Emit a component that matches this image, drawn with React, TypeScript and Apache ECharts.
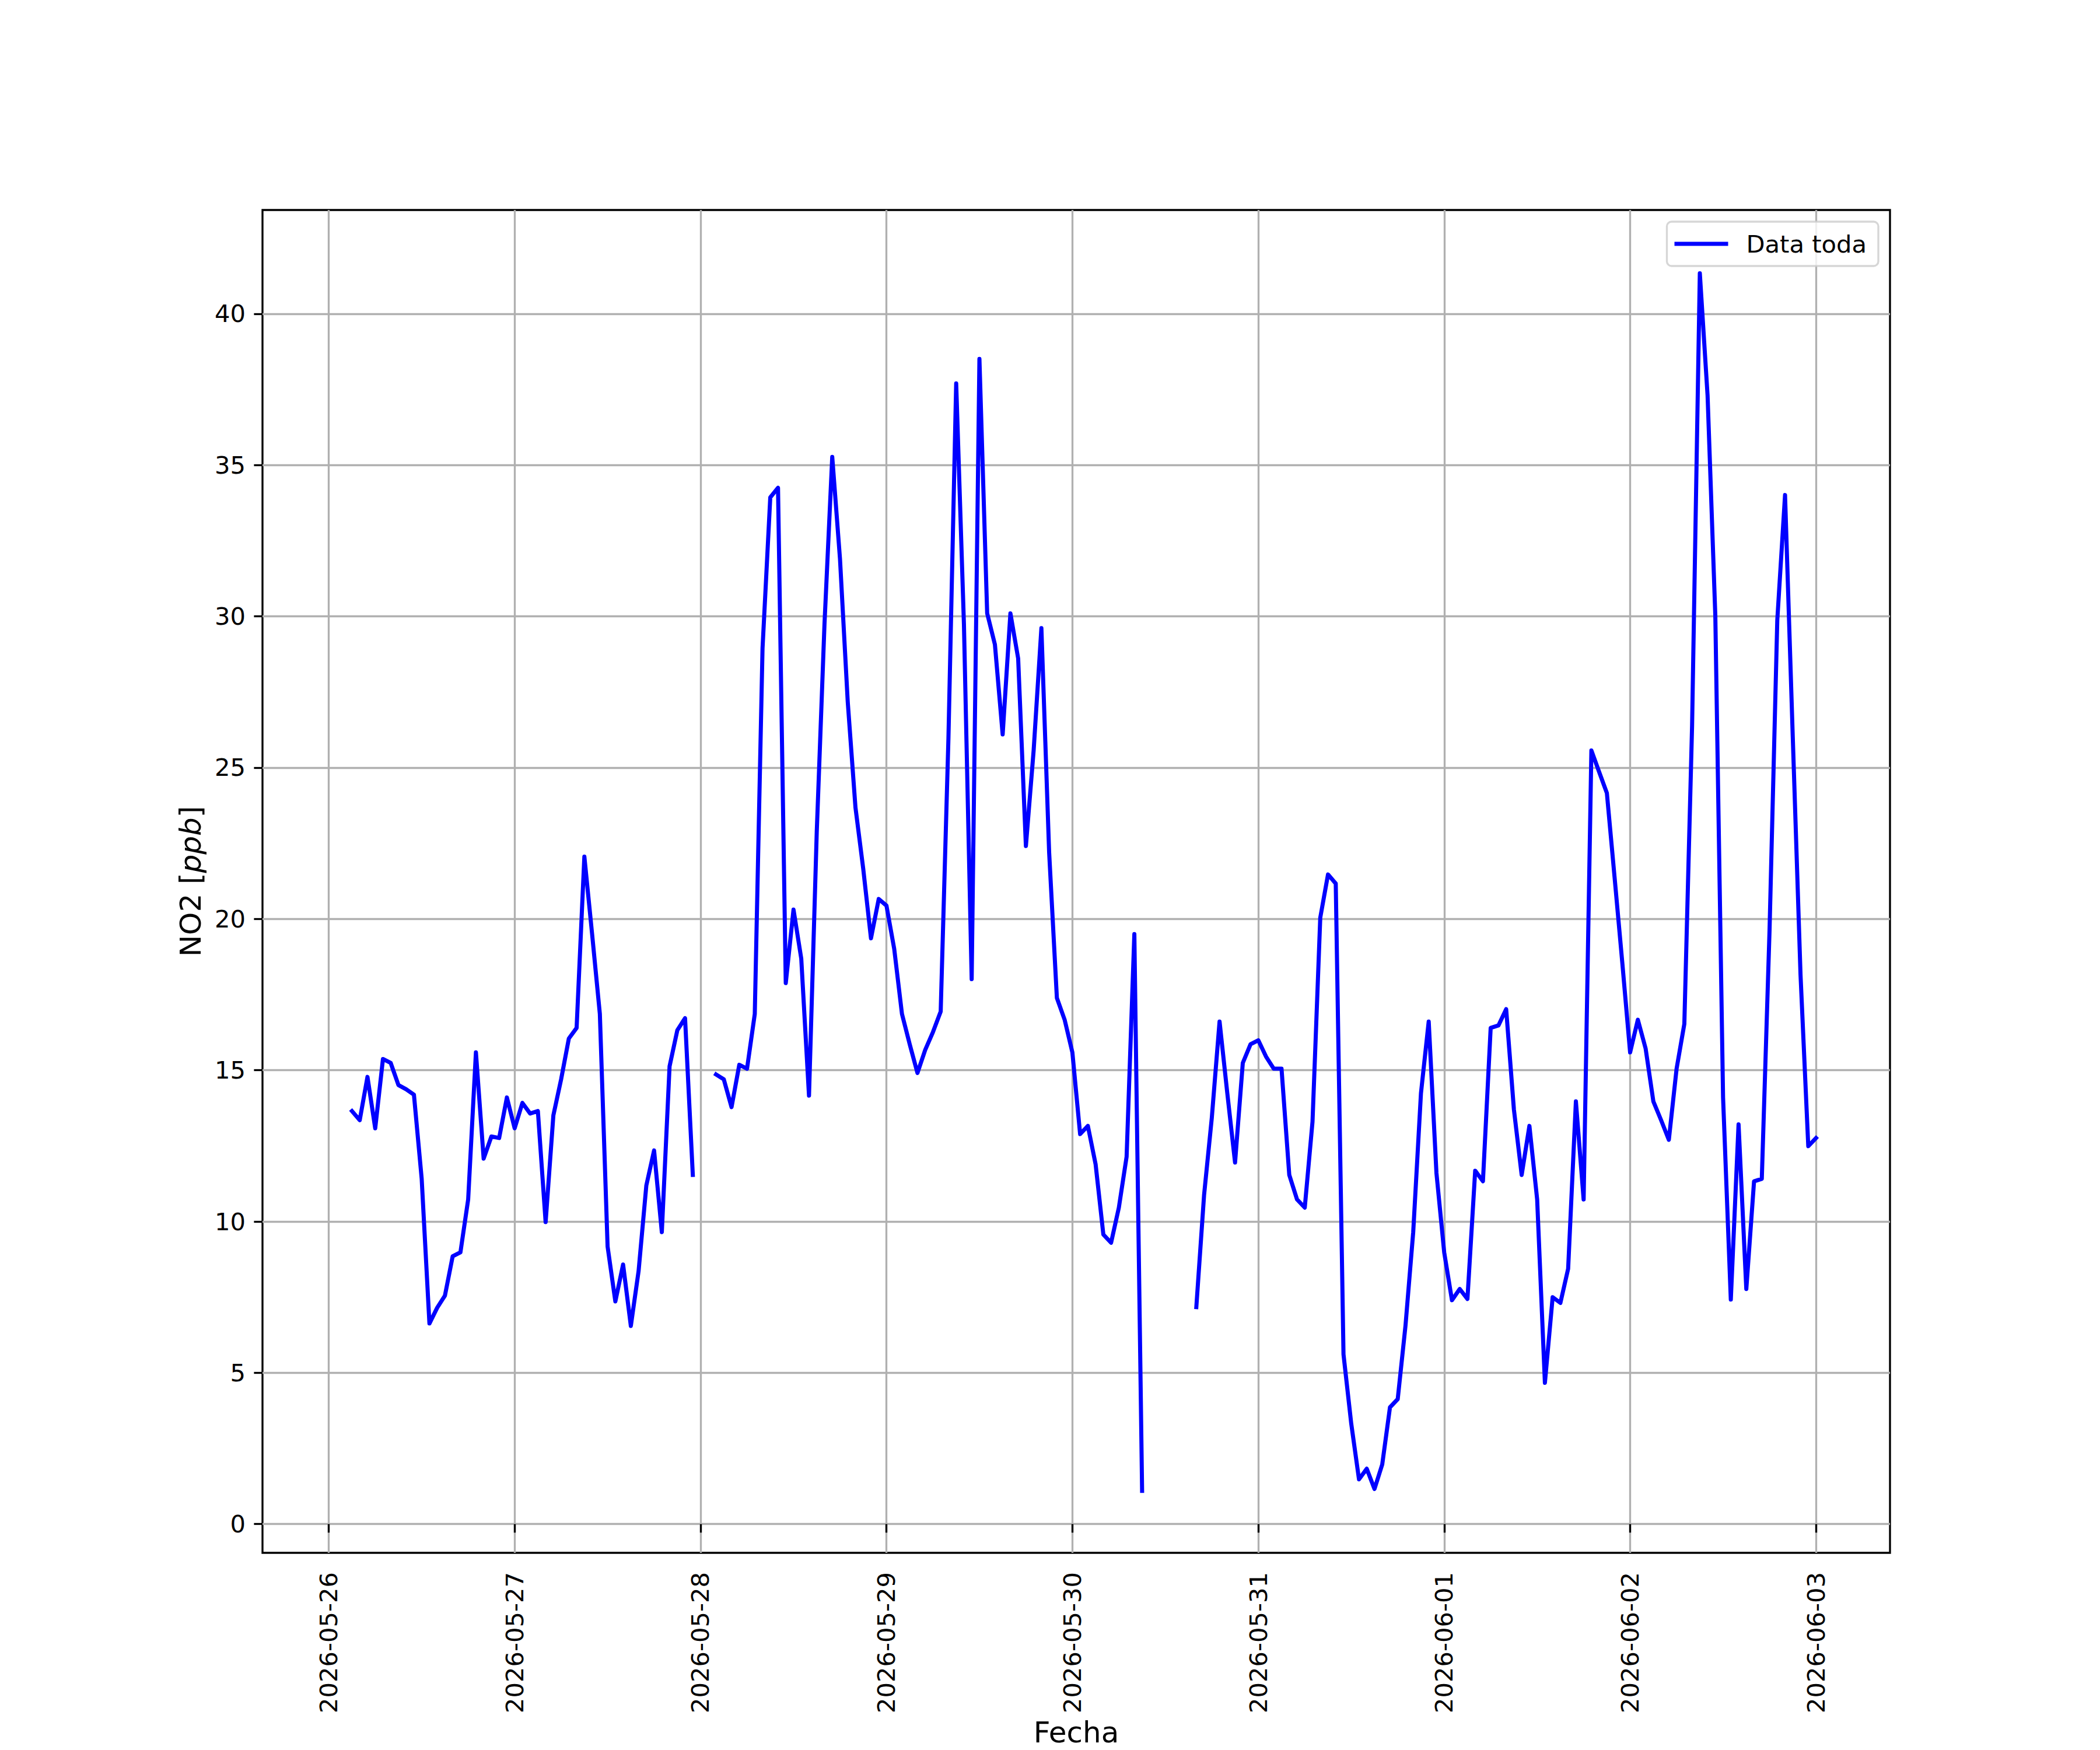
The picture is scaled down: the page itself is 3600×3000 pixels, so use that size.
import React, { useEffect, useRef } from "react";
import * as echarts from "echarts";

// ---- data (hourly NO2 readings, UTC) ----
const SERIES_NAME = "Data toda";
const START_UTC = Date.UTC(2026, 4, 26, 3, 0, 0); // first reading 2026-05-26 03:00
const HOUR_MS = 3600 * 1000;

const no2Values: (number | null)[] = [
  // 2026-05-26 03:00 ..
  13.65, 13.35, 14.78, 13.08, 15.37, 15.24, 14.51, 14.37, 14.19, 11.41, 6.63, 7.15,
  7.55, 8.85, 8.98, 10.73, 15.59, 12.08, 12.81, 12.76, 14.1,
  // 2026-05-27 00:00 ..
  13.08, 13.92, 13.57, 13.65, 9.98, 13.51, 14.7, 16.05, 16.4, 22.06, 19.5, 16.86,
  9.17, 7.36, 8.58, 6.55, 8.36, 11.19, 12.35, 9.65, 15.13, 16.32, 16.72, 11.54,
  // 2026-05-28 00:00 ..
  null, null, 14.86, 14.7, 13.78, 15.18, 15.05, 16.86, 28.94, 33.93, 34.25, 17.88,
  20.31, 18.69, 14.16, 22.87, 29.75, 35.27, 31.9, 27.18, 23.68, 21.66, 19.36, 20.66,
  // 2026-05-29 00:00 ..
  20.44, 19.01, 16.86, 15.86, 14.91, 15.67, 16.26, 16.94, 25.97, 37.7, 29.75, 18.01,
  38.51, 30.1, 29.07, 26.1, 30.1, 28.61, 22.41, 25.57, 29.61, 22.2, 17.39, 16.67,
  // 2026-05-30 00:00 ..
  15.59, 12.89, 13.16, 11.89, 9.57, 9.3, 10.46, 12.14, 19.5, 1.1, null, null,
  null, null, null, null, 7.17, 10.87, 13.43, 16.61, 14.24, 11.95, 15.24, 15.86,
  // 2026-05-31 00:00 ..
  15.99, 15.45, 15.05, 15.05, 11.54, 10.73, 10.46, 13.3, 20.04, 21.47, 21.17, 5.61,
  3.32, 1.48, 1.83, 1.16, 1.97, 3.86, 4.13, 6.55, 9.65, 14.24, 16.61, 11.6,
  // 2026-06-01 00:00 ..
  8.98, 7.4, 7.77, 7.44, 11.68, 11.33, 16.4, 16.48, 17.02, 13.7, 11.54, 13.16,
  10.73, 4.67, 7.5, 7.31, 8.44, 13.97, 10.73, 25.57, 24.86, 24.16, 21.36, 18.53,
  // 2026-06-02 00:00 ..
  15.59, 16.67, 15.72, 13.97, 13.35, 12.7, 15.05, 16.53, 26.38, 41.34, 37.3, 30.02,
  14.1, 7.42, 13.21, 7.77, 11.33, 11.41, 19.63, 29.88, 34.01, 26.0, 18.15, 12.49,
  // 2026-06-03 00:00
  12.76,
];

const xTickDates = [
  "2026-05-26",
  "2026-05-27",
  "2026-05-28",
  "2026-05-29",
  "2026-05-30",
  "2026-05-31",
  "2026-06-01",
  "2026-06-02",
  "2026-06-03",
];
const yTickValues = [0, 5, 10, 15, 20, 25, 30, 35, 40];

// axis limits (matplotlib autoscale with 5% margins)
const DAY0 = Date.UTC(2026, 4, 26, 0, 0, 0);
const X_MIN = DAY0 - 8.55 * HOUR_MS;
const X_MAX = DAY0 + 201.55 * HOUR_MS;
const Y_MIN = -0.95;
const Y_MAX = 43.43;

// ---- styling ----
const FONT = "DejaVu Sans";
const FS = 41.67;
const FS_LABEL = 50;
const LW = 3.33;

function pad2(n: number) {
  return n < 10 ? "0" + n : String(n);
}
function fmtUTCDate(ms: number) {
  const d = new Date(ms);
  return d.getUTCFullYear() + "-" + pad2(d.getUTCMonth() + 1) + "-" + pad2(d.getUTCDate());
}

export default function App() {
  const ref = useRef<HTMLDivElement>(null);

  useEffect(() => {
    document.body.style.margin = "0";
    if (!ref.current) return;
    const chart = echarts.init(ref.current, null, { renderer: "svg" });

    const xTickMs = xTickDates.map((s) => Date.parse(s + "T00:00:00Z"));
    const data = no2Values.map((v, i) => [START_UTC + i * HOUR_MS, v]);

    const option: any = {
      animation: false,
      backgroundColor: "#ffffff",
      grid: {
        left: 450,
        right: 360,
        top: 360,
        bottom: 330,
        show: true,
        borderColor: "#000000",
        borderWidth: LW,
        backgroundColor: "transparent",
        containLabel: false,
      },
      legend: {
        show: true,
        right: 380,
        top: 380,
        orient: "vertical",
        padding: [17, 20, 17, 13],
        backgroundColor: "rgba(255,255,255,0.8)",
        borderColor: "rgba(204,204,204,0.8)",
        borderWidth: LW,
        borderRadius: 8,
        itemWidth: 92,
        itemHeight: 7,
        icon: "rect",
        data: [{ name: SERIES_NAME, icon: "rect" }],
        textStyle: {
          fontFamily: FONT,
          fontSize: FS,
          color: "#000000",
          padding: [0, 0, 0, 26],
        },
      },
      xAxis: {
        type: "value",
        min: X_MIN,
        max: X_MAX,
        scale: true,
        name: "Fecha",
        nameLocation: "middle",
        nameGap: 276,
        nameTextStyle: { fontFamily: FONT, fontSize: FS_LABEL, color: "#000000" },
        axisLine: { show: false },
        axisTick: {
          show: true,
          inside: false,
          length: 14.6,
          customValues: xTickMs,
          lineStyle: { color: "#000000", width: LW },
        },
        axisLabel: {
          show: true,
          rotate: 90,
          margin: 33,
          customValues: xTickMs,
          fontFamily: FONT,
          fontSize: FS,
          color: "#000000",
          hideOverlap: false,
          showMinLabel: true,
          showMaxLabel: true,
          formatter: (v: number) => {
            const s = fmtUTCDate(v);
            return xTickDates.indexOf(s) >= 0 && v % 86400000 === 0 ? s : "";
          },
        },
        splitLine: {
          show: true,
          lineStyle: { color: "#b0b0b0", width: LW },
        },
      },
      yAxis: {
        type: "value",
        min: Y_MIN,
        max: Y_MAX,
        splitNumber: 9,
        minInterval: 5,
        maxInterval: 5,
        name: "{n|NO2 [}{i|ppb}{n|]}",
        nameLocation: "middle",
        nameRotate: 90,
        nameGap: 98,
        nameTextStyle: {
          fontFamily: FONT,
          fontSize: FS_LABEL,
          color: "#000000",
          rich: {
            n: { fontFamily: FONT, fontSize: FS_LABEL, color: "#000000" },
            i: { fontFamily: FONT, fontSize: FS_LABEL, color: "#000000", fontStyle: "italic" },
          },
        },
        axisLine: { show: false },
        axisTick: {
          show: true,
          inside: false,
          length: 14.6,
          customValues: yTickValues,
          lineStyle: { color: "#000000", width: LW },
        },
        axisLabel: {
          show: true,
          margin: 29,
          customValues: yTickValues,
          fontFamily: FONT,
          fontSize: FS,
          color: "#000000",
          formatter: (v: number) =>
            Math.abs(v - Math.round(v / 5) * 5) < 1e-6 ? String(Math.round(v) + 0) : "",
        },
        splitLine: {
          show: true,
          lineStyle: { color: "#b0b0b0", width: LW },
        },
      },
      series: [
        {
          name: SERIES_NAME,
          type: "line",
          data,
          showSymbol: false,
          symbol: "none",
          connectNulls: false,
          color: "#0000ff",
          lineStyle: { color: "#0000ff", width: 7, join: "round", cap: "square" },
          itemStyle: { color: "#0000ff" },
          z: 3,
        },
      ],
    };

    chart.setOption(option);
    return () => {
      chart.dispose();
    };
  }, []);

  return (
    <div
      ref={ref}
      style={{ position: "absolute", left: 0, top: 0, width: 3600, height: 3000, background: "#fff" }}
    />
  );
}
